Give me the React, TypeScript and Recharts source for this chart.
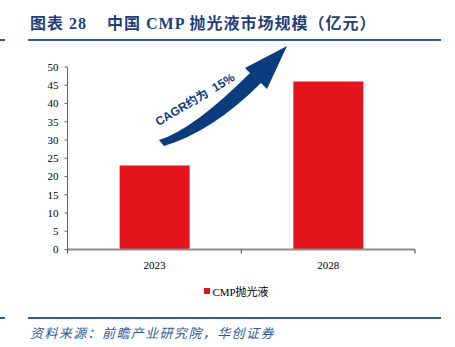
import React from "react";
import { BarChart, Bar, XAxis, YAxis, Legend } from "recharts";

const years = ["2023", "2028"];
const marketSize = [23, 46];
const yTicks = [0, 5, 10, 15, 20, 25, 30, 35, 40, 45, 50];
const seriesName = "CMP抛光液";
const titleText = "图表 28";
const titleMain = "中国 CMP 抛光液市场规模（亿元）";
const sourceText = "资料来源：前瞻产业研究院，华创证券";
const cagrText = "CAGR约为  15%";

const data = years.map((y, i) => ({ year: y, value: marketSize[i] }));

const BLUE = "#1F3F7A";
const LINE_BLUE = "#2E5A9C";
const RED = "#E3141C";
const SERIF = "'Liberation Serif', 'Times New Roman', 'Noto Sans CJK SC', serif";
const X_TICK_SIZE = 4;
const X_TICK_MARGIN = 8;

const XTick = (props: any) => {
  const { x, y, payload, index } = props;
  const half = payload && payload.offset ? payload.offset : 86.9;
  const axisY = y - X_TICK_SIZE - X_TICK_MARGIN;
  return (
    <g>
      <line x1={x + half} x2={x + half} y1={axisY} y2={axisY + X_TICK_SIZE} stroke="#444" strokeWidth={1} />
      {index === 0 && (
        <line x1={x - half} x2={x - half} y1={axisY} y2={axisY + X_TICK_SIZE} stroke="#444" strokeWidth={1} />
      )}
      <text x={x} y={y} dy="0.71em" textAnchor="middle" fontFamily={SERIF} fontSize={11} fill="#000">
        {payload.value}
      </text>
    </g>
  );
};

const LegendContent = () => (
  <div style={{ display: "flex", justifyContent: "center", alignItems: "center", fontFamily: SERIF, fontSize: 11, color: "#000" }}>
    <span style={{ display: "inline-block", width: 6, height: 6, background: RED, marginRight: 2 }} />
    <span>{seriesName}</span>
  </div>
);

export default function App() {
  return (
    <div style={{ position: "absolute", left: 0, top: 0, width: 455, height: 347, background: "#fff", overflow: "hidden" }}>
      {/* header */}
      <div style={{ position: "absolute", left: 0, top: 39, width: 5, height: 2, background: LINE_BLUE }} />
      <div style={{ position: "absolute", left: 28, top: 39, width: 413, height: 2, background: LINE_BLUE }} />
      <div
        style={{
          position: "absolute",
          left: 30,
          top: 14,
          fontFamily: SERIF,
          fontWeight: "bold",
          fontSize: 16,
          letterSpacing: 1,
          color: BLUE,
          whiteSpace: "pre",
          lineHeight: "20px",
        }}
      >
        {titleText + "    " + titleMain}
      </div>

      <div style={{ position: "absolute", left: 0, top: 0 }}>
        <BarChart
          width={455}
          height={347}
          data={data}
          margin={{ top: 67, right: 40, left: 0, bottom: 7.5 }}
          barCategoryGap="30%"
        >
          <XAxis
            dataKey="year"
            height={90}
            axisLine={{ stroke: "#8c8c8c", strokeWidth: 2 }}
            tickLine={false}
            tickSize={X_TICK_SIZE}
            tickMargin={X_TICK_MARGIN}
            tick={<XTick />}
            interval={0}
          />
          <YAxis
            width={67.5}
            domain={[0, 50]}
            ticks={yTicks}
            interval={0}
            axisLine={{ stroke: "#666", strokeWidth: 1 }}
            tickLine={{ stroke: "#666" }}
            tickSize={3}
            tickMargin={6}
            tick={{ fontFamily: SERIF, fontSize: 11, fill: "#000" }}
          />
          <Bar dataKey="value" name={seriesName} fill={RED} isAnimationActive={false} />
          <Legend
            verticalAlign="middle"
            align="center"
            content={<LegendContent />}
            wrapperStyle={{ left: 9, top: 283, width: 455, height: 14 }}
          />
        </BarChart>
      </div>

      {/* growth arrow decoration */}
      <svg width={455} height={347} style={{ position: "absolute", left: 0, top: 0, pointerEvents: "none" }}>
        <path
          d="M159,140 Q193,129.7 250,73 L245,68 L287,46 L267,89 L261,83 Q212.6,131.4 164,146 Z"
          fill="#0B3D7E"
        />
        <text
          x={197}
          y={103}
          textAnchor="middle"
          transform="rotate(-31 197 103)"
          fontFamily="'Liberation Sans', Arial, 'Noto Sans CJK SC', sans-serif"
          fontWeight="bold"
          fontSize={12}
          fill="#0B3D7E"
          style={{ whiteSpace: "pre" }}
        >
          {cagrText}
        </text>
      </svg>

      {/* footer */}
      <div style={{ position: "absolute", left: 0, top: 317, width: 5, height: 2, background: LINE_BLUE }} />
      <div style={{ position: "absolute", left: 28, top: 317, width: 413, height: 2, background: LINE_BLUE }} />
      <div
        style={{
          position: "absolute",
          left: 30,
          top: 325,
          fontFamily: "'Noto Sans CJK SC', sans-serif",
          fontStyle: "italic",
          fontSize: 13,
          letterSpacing: 1.4,
          color: LINE_BLUE,
          whiteSpace: "pre",
          lineHeight: "16px",
        }}
      >
        {sourceText}
      </div>
    </div>
  );
}
